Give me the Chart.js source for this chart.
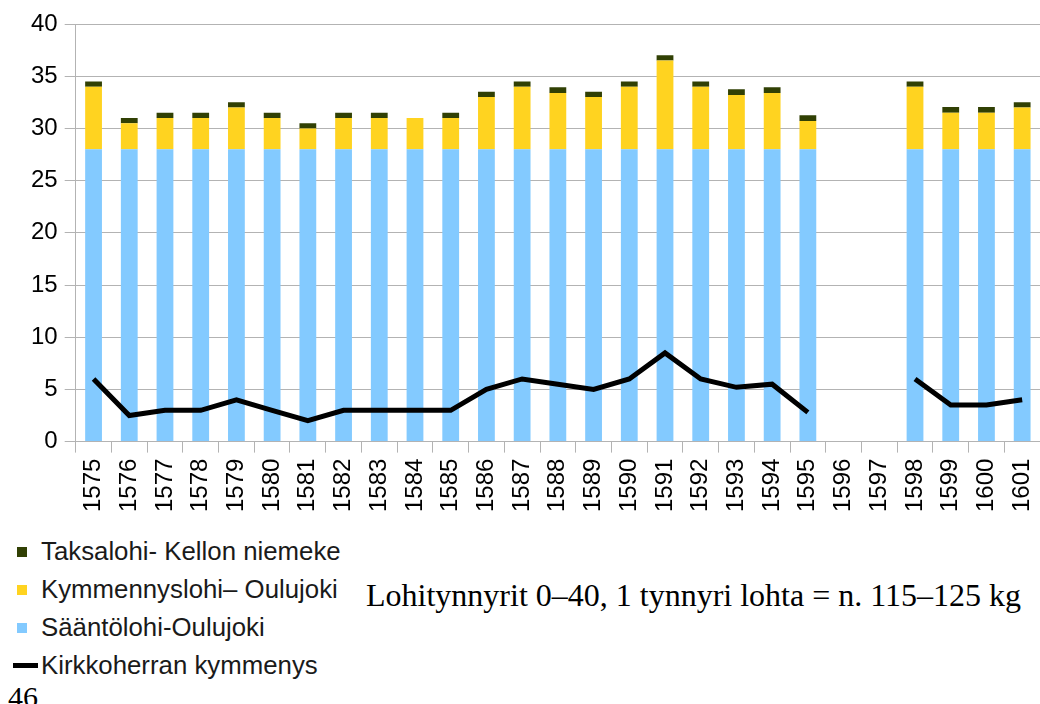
<!DOCTYPE html>
<html>
<head>
<meta charset="utf-8">
<script src="https://cdn.jsdelivr.net/npm/chart.js@4"></script>
<style>
  body { margin: 0; background: #fff; width: 1040px; height: 704px; overflow: hidden; position: relative; }
  #wrap { position: absolute; left: 0; top: 0; width: 1057px; height: 518px; }
  .legend { position: absolute; left: 0; top: 532px; font-family: "Liberation Sans", Arial, sans-serif; font-size: 25.8px; color: #1a1a1a; }
  .legend div { height: 38px; line-height: 38px; position: relative; padding-left: 41px; white-space: nowrap; }
  .legend .sq { position: absolute; left: 17px; top: 15px; width: 10px; height: 10px; }
  .legend .ln { position: absolute; left: 13px; top: 17px; width: 25px; height: 5px; background: #000; }
  .note { position: absolute; left: 366px; top: 579px; font-family: "Liberation Serif", "Times New Roman", serif; font-size: 32px; line-height: 32px; color: #000; white-space: nowrap; }
  .page { position: absolute; left: 8px; top: 682px; font-family: "Liberation Serif", "Times New Roman", serif; font-size: 30px; line-height: 30px; color: #000; }
</style>
</head>
<body>
<div id="wrap"><canvas id="myChart"></canvas></div>
<div class="legend">
  <div><span class="sq" style="background:#314004"></span>Taksalohi- Kellon niemeke</div>
  <div><span class="sq" style="background:#ffd320"></span>Kymmennyslohi– Oulujoki</div>
  <div><span class="sq" style="background:#83caff"></span>Sääntölohi-Oulujoki</div>
  <div><span class="ln"></span>Kirkkoherran kymmenys</div>
</div>
<div class="note">Lohitynnyrit 0–40, 1 tynnyri lohta = n. 115–125 kg</div>
<div class="page">46</div>
<script>
const years = ['1575', '1576', '1577', '1578', '1579', '1580', '1581', '1582', '1583', '1584',
    '1585', '1586', '1587', '1588', '1589', '1590', '1591', '1592', '1593', '1594',
    '1595', '1596', '1597', '1598', '1599', '1600', '1601'];

// Sääntölohi (base)
const saantolohi = [28, 28, 28, 28, 28, 28, 28, 28, 28, 28,
    28, 28, 28, 28, 28, 28, 28, 28, 28, 28,
    28, null, null, 28, 28, 28, 28];
// Kymmennyslohi
const kymmennyslohi = [6, 2.5, 3, 3, 4, 3, 2, 3, 3, 3,
    3, 5, 6, 5.4, 5, 6, 8.5, 6, 5.2, 5.4,
    2.7, null, null, 6, 3.5, 3.5, 4];
// Taksalohi
const taksalohi = [0.5, 0.5, 0.5, 0.5, 0.5, 0.5, 0.5, 0.5, 0.5, 0,
    0.5, 0.5, 0.5, 0.55, 0.5, 0.5, 0.5, 0.5, 0.55, 0.55,
    0.55, null, null, 0.5, 0.55, 0.55, 0.5];
// Kirkkoherran kymmenys
const kirkkoherra = [6, 2.5, 3, 3, 4, 3, 2, 3, 3, 3,
    3, 5, 6, 5.5, 5, 6, 8.5, 6, 5.2, 5.5,
    2.8, null, null, 6, 3.5, 3.5, 4];

const yTicks = [0, 5, 10, 15, 20, 25, 30, 35, 40];

const GRID = '#b3b3b3';
const ctx = document.getElementById('myChart');

new Chart(ctx, {
    type: 'bar',
    data: {
        labels: years,
        datasets: [
            {
                type: 'line',
                label: 'Kirkkoherran kymmenys',
                data: kirkkoherra,
                borderColor: '#000',
                borderWidth: 5,
                pointRadius: 0,
                borderJoinStyle: 'miter',
                spanGaps: false,
                stack: 'line',
                order: 0
            },
            {
                label: 'Sääntölohi-Oulujoki',
                data: saantolohi,
                backgroundColor: '#83caff',
                stack: 'bars',
                order: 1
            },
            {
                label: 'Kymmennyslohi– Oulujoki',
                data: kymmennyslohi,
                backgroundColor: '#ffd320',
                stack: 'bars',
                order: 1
            },
            {
                label: 'Taksalohi- Kellon niemeke',
                data: taksalohi,
                backgroundColor: '#314004',
                stack: 'bars',
                order: 1
            }
        ]
    },
    options: {
        responsive: true,
        maintainAspectRatio: false,
        animation: false,
        datasets: {
            bar: { barPercentage: 0.94, categoryPercentage: 0.5 }
        },
        layout: { padding: { left: 24, right: 2, top: 24, bottom: 0 } },
        plugins: {
            legend: { display: false },
            tooltip: { enabled: false }
        },
        scales: {
            x: {
                stacked: true,
                grid: { color: GRID, drawOnChartArea: false, tickLength: 11, lineWidth: 1 },
                border: { color: GRID },
                ticks: {
                    color: '#000',
                    font: { family: 'Liberation Sans', size: 24 },
                    maxRotation: 90,
                    minRotation: 90,
                    autoSkip: false,
                    padding: 6
                }
            },
            y: {
                stacked: true,
                min: 0,
                max: 40,
                afterBuildTicks: axis => { axis.ticks = yTicks.map(v => ({ value: v })); },
                grid: { color: GRID, tickLength: 11, lineWidth: 1 },
                border: { color: GRID },
                ticks: {
                    color: '#000',
                    font: { family: 'Liberation Sans', size: 24 },
                    padding: 7
                }
            }
        }
    }
});
</script>
</body>
</html>
